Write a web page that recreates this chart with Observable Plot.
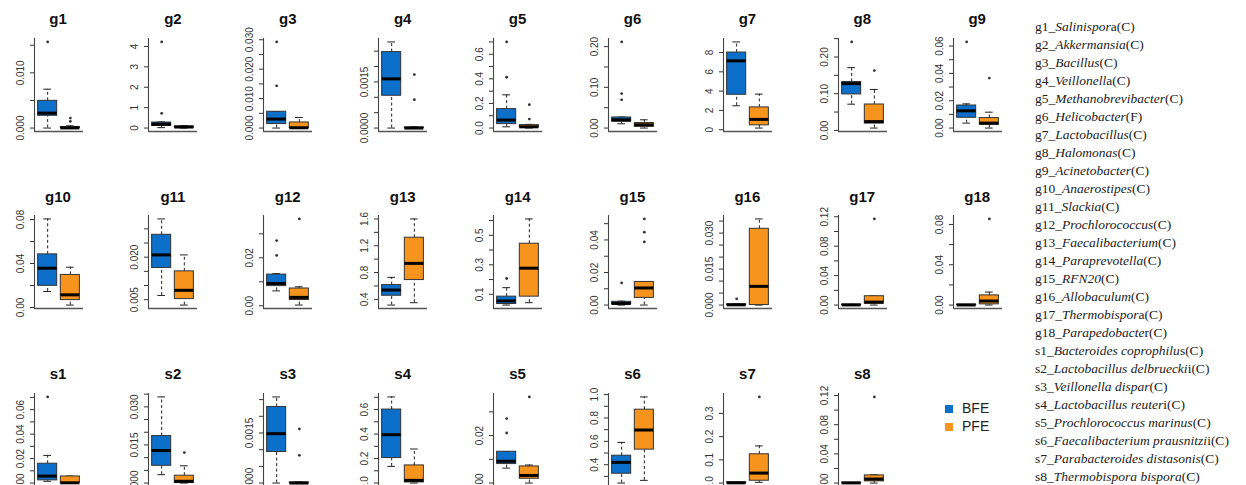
<!DOCTYPE html>
<html><head><meta charset="utf-8">
<script src="https://cdn.jsdelivr.net/npm/d3@7"></script>
<script src="https://cdn.jsdelivr.net/npm/@observablehq/plot@0.6"></script>
<style>
html,body{margin:0;padding:0;background:#fff;overflow:hidden;width:1246px;height:485px}
#wrap{position:relative;width:1246px;height:485px;overflow:hidden}
.panel{position:absolute}
.ttl{position:absolute;font:bold 15px "Liberation Sans",Arial,sans-serif;color:#111;transform:translate(-50%,-50%);white-space:nowrap}
#taxa{position:absolute;left:1035px;top:18px;font:13.5px "Liberation Serif","Times New Roman",serif;color:#222;white-space:nowrap;line-height:18px}
#taxa i{font-style:italic}
.lg{position:absolute;font:14px "Liberation Sans",Arial,sans-serif;color:#222;white-space:nowrap}
.sw{position:absolute;width:8px;height:8px}
</style></head><body><div id="wrap"></div>
<script>
// ---------------- data ----------------
const panels = ["g1","g2","g3","g4","g5","g6","g7","g8","g9",
  "g10","g11","g12","g13","g14","g15","g16","g17","g18",
  "s1","s2","s3","s4","s5","s6","s7","s8"];
const groups = ["BFE","PFE"];
const groupColors = ["#0c6fc9","#f7941e"];

// box stats: [lower whisker, q1, median, q3, upper whisker]
const bfeStats = [
  [0,0.00222,0.0027,0.00493,0.00704],
  [0.02,0.1,0.19,0.27,0.3],
  [0,0.00136,0.00305,0.00553,0.0056],
  [0,0.00105,0.0016,0.00247,0.0028],
  [0.01,0.032,0.065,0.154,0.27],
  [0.0105,0.0154,0.0203,0.026,0.027],
  [2.48,3.62,7.14,8.0,9.1],
  [0.0714,0.098,0.1275,0.132,0.171],
  [0.0036,0.0075,0.0126,0.0165,0.0177],
  [0.0145,0.0197,0.0357,0.0483,0.0805],
  [0.0065,0.0162,0.0208,0.0279,0.0335],
  [0.0062,0.0082,0.0093,0.013,0.0134],
  [0.315,0.454,0.539,0.613,0.728],
  [0.027,0.034,0.055,0.084,0.145],
  [0,0.0004,0.001,0.002,0.0024],
  [0,0,0.0001,0.0003,0.0005],
  [0,0,0.0002,0.0006,0.001],
  [0,0,0.0001,0.0004,0.0006],
  [0.0014,0.0022,0.0057,0.0158,0.0226],
  [0.0033,0.0068,0.0128,0.0185,0.0339],
  [0,0.00093,0.00148,0.00228,0.00258],
  [0.136,0.204,0.395,0.6,0.703],
  [0.0063,0.008,0.0092,0.0132,0.0132],
  [0.243,0.323,0.42,0.477,0.591],
  [0,0,0.001,0.003,0.004],
  [0,0,0.0002,0.0005,0.0008]
];
const pfeStats = [
  [0,0,0.00003,0.0002,0.0004],
  [0,0.02,0.05,0.08,0.12],
  [0,0,0.0001,0.0019,0.0036],
  [0,0,0,0.00002,0.00004],
  [0,0.005,0.01,0.024,0.03],
  [0,0.003,0.008,0.0123,0.0203],
  [0.17,0.45,1.07,2.31,3.69],
  [0.0064,0.0187,0.024,0.0706,0.1115],
  [0,0.0024,0.0036,0.0073,0.0116],
  [0.0022,0.0067,0.0115,0.0296,0.0366],
  [0.0031,0.0052,0.0083,0.015,0.0208],
  [0.0003,0.0024,0.0035,0.0072,0.0079],
  [0.35,0.688,0.937,1.32,1.6],
  [0.043,0.084,0.277,0.443,0.611],
  [0,0.0044,0.0105,0.0142,0.0143],
  [0,0,0.0078,0.0318,0.0359],
  [0,0.0018,0.004,0.012,0.0121],
  [0,0.0007,0.004,0.0096,0.0129],
  [0,0,0.0002,0.0054,0.0057],
  [0,0,0.0007,0.0029,0.0068],
  [0,0,0,0.00002,0.00004],
  [0,0.005,0.022,0.144,0.278],
  [0,0.0018,0.0032,0.007,0.0076],
  [0.266,0.529,0.697,0.871,0.98],
  [0.003,0.01,0.043,0.124,0.16],
  [0,0.0023,0.0055,0.0105,0.0114]
];
const bfeOutliers = [
  [0.0156],[0.72,4.22],[0.01434,0.02925],[],[0.413,0.70],[0.0694,0.0848,0.2115],[],[0.241],[0.063],
  [],[],[0.021,0.0272],[],[0.207],[0.0136],[0.0026],[],[],
  [0.0704],[],[],[],[0.0211,0.0272],[],[],[]
];
const pfeOutliers = [
  [0.0012,0.0018],[],[],[0.00092,0.00174],[0.073,0.19],[],[],[0.163],[0.0366],
  [],[],[0.0362],[],[],[0.0388,0.0448,0.0529],[],[0.117],[0.0855],
  [],[0.012],[0.00083,0.00162],[],[0.0363],[],[0.371],[0.118]
];
const yTicks = [
  [0,0.005,0.01,0.015],
  [0,1,2,3,4],
  [0,0.005,0.01,0.015,0.02,0.025,0.03],
  [0,0.0005,0.001,0.0015,0.002,0.0025],
  [0,0.1,0.2,0.3,0.4,0.5,0.6,0.7],
  [0,0.05,0.1,0.15,0.2],
  [0,2,4,6,8],
  [0,0.05,0.1,0.15,0.2,0.25],
  [0,0.01,0.02,0.03,0.04,0.05,0.06],
  [0,0.02,0.04,0.06,0.08],
  [0.005,0.01,0.015,0.02,0.025,0.03],
  [0,0.01,0.02,0.03],
  [0.4,0.6,0.8,1.0,1.2,1.4,1.6],
  [0.1,0.2,0.3,0.4,0.5,0.6],
  [0,0.01,0.02,0.03,0.04,0.05],
  [0,0.005,0.01,0.015,0.02,0.025,0.03,0.035],
  [0,0.02,0.04,0.06,0.08,0.1,0.12],
  [0,0.02,0.04,0.06,0.08],
  [0,0.01,0.02,0.03,0.04,0.05,0.06,0.07],
  [0,0.005,0.01,0.015,0.02,0.025,0.03,0.035],
  [0,0.0005,0.001,0.0015,0.002,0.0025],
  [0,0.1,0.2,0.3,0.4,0.5,0.6,0.7],
  [0,0.01,0.02,0.03],
  [0.2,0.3,0.4,0.5,0.6,0.7,0.8,0.9,1.0],
  [0,0.1,0.2,0.3],
  [0,0.02,0.04,0.06,0.08,0.1,0.12]
];
const yLabels = [
  ["0.000","0.010"],["0","1","2","3","4"],["0.000","0.010","0.020","0.030"],["0.0000","0.0015"],
  ["0.0","0.2","0.4","0.6"],["0.00","0.10","0.20"],["0","2","4","6","8"],["0.00","0.10","0.20"],
  ["0.00","0.02","0.04","0.06"],
  ["0.00","0.04","0.08"],["0.005","0.020"],["0.00","0.02"],["0.4","0.8","1.2","1.6"],
  ["0.1","0.3","0.5"],["0.00","0.02","0.04"],["0.000","0.015","0.030"],["0.00","0.04","0.08","0.12"],
  ["0.00","0.04","0.08"],
  ["0.00","0.02","0.04","0.06"],["0.000","0.015","0.030"],["0.0000","0.0015"],["0.0","0.2","0.4","0.6"],
  ["0.00","0.02"],["0.2","0.4","0.6","0.8","1.0"],["0.0","0.1","0.2","0.3"],["0.00","0.04","0.08","0.12"]
];
// legend taxa: code, italic name, upright tail, rank
const taxonCode = panels;
const taxonName = ["Salinispor","Akkermansia","Bacillus","Veillonell","Methanobrevibacter","Helicobacter",
  "Lactobacillus","Halomonas","Acinetobacter","Anaerostipes","Slackia","Prochlorococcus","Faecalibacterium",
  "Paraprevotella","RFN20","Allobaculum","Thermobispor","Parapedobacte",
  "Bacteroides coprophilu","Lactobacillus delbruecki","Veillonella  dispar","Lactobacillus reuter",
  "Prochlorococcus marinus","Faecalibacterium prausnitzi","Parabacteroides distasonis","Thermobispora bispora"];
const taxonTail = ["a","","","a","","","","","","","","","","","","","a","r","s","i","","i","","i","",""];
const taxonRank = ["C","C","C","C","C","F","C","C","C","C","C","C","C","C","C","C","C","C","C","C","C","C","C","C","C","C"];

// ---------------- layout ----------------
const wrap = document.getElementById("wrap");
const rowTop = [37.5, 215.3, 393];
const rowTitle = [18, 195.5, 373.3];
const PW = 49, PH = 93, ML = 32, MT = 6;
const X0 = 0.42, X1 = 2.58, HW = 0.42, CAP = 0.17;

panels.forEach((name, i) => {
  const row = Math.floor(i / 9), col = i % 9;
  const L = 33.5 + 114.9 * col, T = rowTop[row];
  const st = [bfeStats[i], pfeStats[i]].map((s, g) => ({
    grp: groups[g], pos: g + 1, wlo: s[0], q1: s[1], med: s[2], q3: s[3], whi: s[4]}));
  const outs = [...bfeOutliers[i].map(v => ({pos: 1, v})), ...pfeOutliers[i].map(v => ({pos: 2, v}))];
  const all = [...bfeStats[i], ...pfeStats[i], ...bfeOutliers[i], ...pfeOutliers[i]];
  const mn = d3.min(all), mx = d3.max(all), r = mx - mn;
  const lo = mn - 0.04 * r, hi = mx + 0.04 * r;
  const eps = r * 1e-6;
  const ticks = yTicks[i].filter(t => t >= lo - eps && t <= hi + eps);
  const labs = yLabels[i].map(s => ({s, v: +s})).filter(d => d.v >= lo - eps && d.v <= hi + eps);

  const svg = Plot.plot({
    width: ML + PW + 4, height: MT + PH + 4,
    marginLeft: ML, marginRight: 4, marginTop: MT, marginBottom: 4,
    x: {type: "linear", domain: [X0, X1], axis: null},
    y: {domain: [lo, hi], axis: null},
    color: {domain: groups, range: groupColors},
    style: {background: "transparent", overflow: "visible", fontFamily: "Liberation Sans, Arial, sans-serif"},
    marks: [
      Plot.ruleY([lo], {x1: X0, x2: X1, stroke: "#555", strokeWidth: 1.4}),
      Plot.ruleX([X0], {y1: lo, y2: hi, stroke: "#444", strokeWidth: 1.1}),
      Plot.axisY(ticks, {anchor: "left", tickSize: 4, tickFormat: () => "", stroke: "#333", label: null}),
      Plot.text(labs, {y: "v", text: "s", frameAnchor: "left", dx: -14, rotate: -90,
        fontSize: 10, fill: "#333", textAnchor: "middle", lineAnchor: "middle"}),
      Plot.ruleX(st, {x: "pos", y1: "q3", y2: "whi", stroke: "#222", strokeDasharray: "3,2.5"}),
      Plot.ruleX(st, {x: "pos", y1: "wlo", y2: "q1", stroke: "#222", strokeDasharray: "3,2.5"}),
      Plot.ruleY(st, {y: "whi", x1: d => d.pos - CAP, x2: d => d.pos + CAP, stroke: "#222"}),
      Plot.ruleY(st, {y: "wlo", x1: d => d.pos - CAP, x2: d => d.pos + CAP, stroke: "#222"}),
      Plot.rect(st, {x1: d => d.pos - HW, x2: d => d.pos + HW, y1: "q1", y2: "q3",
        fill: "grp", stroke: "#333", strokeWidth: 1}),
      Plot.ruleY(st, {y: "med", x1: d => d.pos - HW, x2: d => d.pos + HW, stroke: "#000", strokeWidth: 3}),
      Plot.dot(outs, {x: "pos", y: "v", r: 1.4, fill: "#333", stroke: "none"})
    ]
  });
  const div = document.createElement("div");
  div.className = "panel";
  div.style.left = (L - ML) + "px";
  div.style.top = (T - MT) + "px";
  div.appendChild(svg);
  wrap.appendChild(div);

  const t = document.createElement("div");
  t.className = "ttl";
  t.textContent = name;
  t.style.left = (L + PW / 2) + "px";
  t.style.top = rowTitle[row] + "px";
  wrap.appendChild(t);
});

// taxa legend
const taxa = document.createElement("div");
taxa.id = "taxa";
taxonCode.forEach((c, k) => {
  const line = document.createElement("div");
  line.append(c + "_");
  const it = document.createElement("i");
  it.textContent = taxonName[k];
  line.appendChild(it);
  line.append(taxonTail[k] + "(" + taxonRank[k] + ")");
  taxa.appendChild(line);
});
wrap.appendChild(taxa);

// group legend
const legY = [409, 426.7];
groups.forEach((g, k) => {
  const sw = document.createElement("div");
  sw.className = "sw";
  sw.style.background = groupColors[k];
  sw.style.left = (949.3 - 4) + "px";
  sw.style.top = (legY[k] - 4) + "px";
  wrap.appendChild(sw);
  const tx = document.createElement("div");
  tx.className = "lg";
  tx.textContent = g;
  tx.style.left = "962px";
  tx.style.top = (legY[k] - 9) + "px";
  wrap.appendChild(tx);
});
</script></body></html>
